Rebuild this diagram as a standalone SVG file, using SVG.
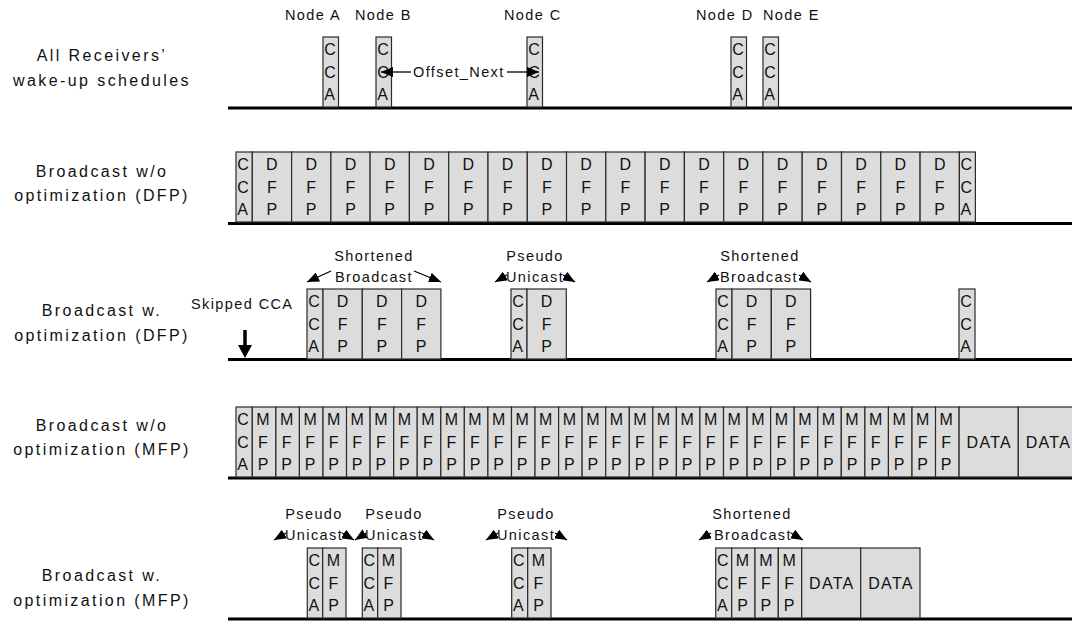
<svg xmlns="http://www.w3.org/2000/svg" width="1072" height="624" viewBox="0 0 1072 624">
<style>
.b{fill:#dcdcdc;stroke:#2a2a2a;stroke-width:1.2}
.t{font-family:"Liberation Sans",Arial,Helvetica,sans-serif;font-size:16px;fill:#111}
.m{text-anchor:middle}
.lbl{font-family:"Liberation Sans",Arial,Helvetica,sans-serif;font-size:16px;letter-spacing:2.4px;text-anchor:middle;fill:#111}
.sm{font-family:"Liberation Sans",Arial,Helvetica,sans-serif;font-size:14.5px;letter-spacing:1.4px;fill:#111}
.base{stroke:#000;stroke-width:3}
.ar{stroke:#000;stroke-width:1.3;fill:none;marker-end:url(#ah)}
.dt{letter-spacing:1.3px}
</style>
<defs>
<marker id="ah" viewBox="0 0 12 10" refX="12" refY="5" markerWidth="12" markerHeight="10" markerUnits="userSpaceOnUse" orient="auto"><path d="M0,0 L12,5 L0,10 z" fill="#000"/></marker>
</defs>
<rect width="1072" height="624" fill="#fff"/>

<g id="row-labels">
<text class="lbl" x="102" y="61">All Receivers’</text>
<text class="lbl" x="102" y="86">wake-up schedules</text>
<text class="lbl" x="102" y="177">Broadcast w/o</text>
<text class="lbl" x="102" y="201">optimization (DFP)</text>
<text class="lbl" x="102" y="316">Broadcast w.</text>
<text class="lbl" x="102" y="341">optimization (DFP)</text>
<text class="lbl" x="102" y="431">Broadcast w/o</text>
<text class="lbl" x="102" y="455">optimization (MFP)</text>
<text class="lbl" x="102" y="581">Broadcast w.</text>
<text class="lbl" x="102" y="606">optimization (MFP)</text>
</g>

<g id="node-labels">
<text class="sm" x="285" y="20">Node A</text>
<text class="sm" x="355" y="20">Node B</text>
<text class="sm" x="504" y="20">Node C</text>
<text class="sm" x="696" y="20">Node D</text>
<text class="sm" x="763" y="20">Node E</text>
</g>

<g id="baselines">
<line class="base" x1="228" y1="108" x2="1072" y2="108"/>
<line class="base" x1="228" y1="223.5" x2="1072" y2="223.5"/>
<line class="base" x1="228" y1="359.5" x2="1072" y2="359.5"/>
<line class="base" x1="228" y1="478" x2="1072" y2="478"/>
<line class="base" x1="228" y1="619" x2="1072" y2="619"/>
</g>

<!-- Row 1 -->
<g id="r1-a"><rect class="b" x="323" y="37" width="15.5" height="70"/><text class="t"><tspan x="324.2" y="55">C</tspan><tspan x="324.2" y="77.5">C</tspan><tspan x="324.2" y="100">A</tspan></text></g>
<g id="r1-b"><rect class="b" x="376" y="37" width="15.5" height="70"/><text class="t"><tspan x="377.2" y="55">C</tspan><tspan x="377.2" y="77.5">C</tspan><tspan x="377.2" y="100">A</tspan></text></g>
<g id="r1-c"><rect class="b" x="527" y="37" width="15.5" height="70"/><text class="t"><tspan x="528.2" y="55">C</tspan><tspan x="528.2" y="77.5">C</tspan><tspan x="528.2" y="100">A</tspan></text></g>
<g id="r1-d"><rect class="b" x="731" y="37" width="15.5" height="70"/><text class="t"><tspan x="732.2" y="55">C</tspan><tspan x="732.2" y="77.5">C</tspan><tspan x="732.2" y="100">A</tspan></text></g>
<g id="r1-e"><rect class="b" x="763" y="37" width="15.5" height="70"/><text class="t"><tspan x="764.2" y="55">C</tspan><tspan x="764.2" y="77.5">C</tspan><tspan x="764.2" y="100">A</tspan></text></g>
<g id="offset-next"><text class="sm" x="413" y="77">Offset_Next</text></g>

<!-- Row 2 -->
<g id="r2-cca1"><rect class="b" x="236" y="152" width="16.3" height="70"/><text class="t"><tspan x="237.2" y="170">C</tspan><tspan x="237.2" y="192.5">C</tspan><tspan x="237.2" y="215">A</tspan></text></g>
<g id="r2-d1"><rect class="b" x="252.3" y="152" width="39.3" height="70"/><text class="t m"><tspan x="271.9" y="170">D</tspan><tspan x="271.9" y="192.5">F</tspan><tspan x="271.9" y="215">P</tspan></text></g>
<g id="r2-d2"><rect class="b" x="291.6" y="152" width="39.3" height="70"/><text class="t m"><tspan x="311.2" y="170">D</tspan><tspan x="311.2" y="192.5">F</tspan><tspan x="311.2" y="215">P</tspan></text></g>
<g id="r2-d3"><rect class="b" x="330.9" y="152" width="39.3" height="70"/><text class="t m"><tspan x="350.5" y="170">D</tspan><tspan x="350.5" y="192.5">F</tspan><tspan x="350.5" y="215">P</tspan></text></g>
<g id="r2-d4"><rect class="b" x="370.1" y="152" width="39.3" height="70"/><text class="t m"><tspan x="389.7" y="170">D</tspan><tspan x="389.7" y="192.5">F</tspan><tspan x="389.7" y="215">P</tspan></text></g>
<g id="r2-d5"><rect class="b" x="409.4" y="152" width="39.3" height="70"/><text class="t m"><tspan x="429" y="170">D</tspan><tspan x="429" y="192.5">F</tspan><tspan x="429" y="215">P</tspan></text></g>
<g id="r2-d6"><rect class="b" x="448.7" y="152" width="39.3" height="70"/><text class="t m"><tspan x="468.3" y="170">D</tspan><tspan x="468.3" y="192.5">F</tspan><tspan x="468.3" y="215">P</tspan></text></g>
<g id="r2-d7"><rect class="b" x="488" y="152" width="39.3" height="70"/><text class="t m"><tspan x="507.6" y="170">D</tspan><tspan x="507.6" y="192.5">F</tspan><tspan x="507.6" y="215">P</tspan></text></g>
<g id="r2-d8"><rect class="b" x="527.3" y="152" width="39.3" height="70"/><text class="t m"><tspan x="546.9" y="170">D</tspan><tspan x="546.9" y="192.5">F</tspan><tspan x="546.9" y="215">P</tspan></text></g>
<g id="r2-d9"><rect class="b" x="566.5" y="152" width="39.3" height="70"/><text class="t m"><tspan x="586.1" y="170">D</tspan><tspan x="586.1" y="192.5">F</tspan><tspan x="586.1" y="215">P</tspan></text></g>
<g id="r2-d10"><rect class="b" x="605.8" y="152" width="39.3" height="70"/><text class="t m"><tspan x="625.4" y="170">D</tspan><tspan x="625.4" y="192.5">F</tspan><tspan x="625.4" y="215">P</tspan></text></g>
<g id="r2-d11"><rect class="b" x="645.1" y="152" width="39.3" height="70"/><text class="t m"><tspan x="664.7" y="170">D</tspan><tspan x="664.7" y="192.5">F</tspan><tspan x="664.7" y="215">P</tspan></text></g>
<g id="r2-d12"><rect class="b" x="684.4" y="152" width="39.3" height="70"/><text class="t m"><tspan x="704" y="170">D</tspan><tspan x="704" y="192.5">F</tspan><tspan x="704" y="215">P</tspan></text></g>
<g id="r2-d13"><rect class="b" x="723.7" y="152" width="39.3" height="70"/><text class="t m"><tspan x="743.3" y="170">D</tspan><tspan x="743.3" y="192.5">F</tspan><tspan x="743.3" y="215">P</tspan></text></g>
<g id="r2-d14"><rect class="b" x="762.9" y="152" width="39.3" height="70"/><text class="t m"><tspan x="782.5" y="170">D</tspan><tspan x="782.5" y="192.5">F</tspan><tspan x="782.5" y="215">P</tspan></text></g>
<g id="r2-d15"><rect class="b" x="802.2" y="152" width="39.3" height="70"/><text class="t m"><tspan x="821.8" y="170">D</tspan><tspan x="821.8" y="192.5">F</tspan><tspan x="821.8" y="215">P</tspan></text></g>
<g id="r2-d16"><rect class="b" x="841.5" y="152" width="39.3" height="70"/><text class="t m"><tspan x="861.1" y="170">D</tspan><tspan x="861.1" y="192.5">F</tspan><tspan x="861.1" y="215">P</tspan></text></g>
<g id="r2-d17"><rect class="b" x="880.8" y="152" width="39.3" height="70"/><text class="t m"><tspan x="900.4" y="170">D</tspan><tspan x="900.4" y="192.5">F</tspan><tspan x="900.4" y="215">P</tspan></text></g>
<g id="r2-d18"><rect class="b" x="920.1" y="152" width="39.3" height="70"/><text class="t m"><tspan x="939.7" y="170">D</tspan><tspan x="939.7" y="192.5">F</tspan><tspan x="939.7" y="215">P</tspan></text></g>
<g id="r2-cca2"><rect class="b" x="959.4" y="152" width="16" height="70"/><text class="t"><tspan x="960.5" y="170">C</tspan><tspan x="960.5" y="192.5">C</tspan><tspan x="960.5" y="215">A</tspan></text></g>

<!-- Row 3 -->
<g id="r3-skip"><text class="sm" x="191" y="309">Skipped CCA</text></g>
<g id="r3-lbl1"><text class="sm m" x="374" y="261">Shortened</text><text class="sm m" x="374" y="282">Broadcast</text></g>
<g id="r3-lbl2"><text class="sm m" x="535" y="261">Pseudo</text><text class="sm m" x="535" y="282">Unicast</text></g>
<g id="r3-lbl3"><text class="sm m" x="760" y="261">Shortened</text><text class="sm m" x="759" y="282">Broadcast</text></g>
<g id="r3-c1"><rect class="b" x="307" y="289" width="16" height="70"/><text class="t"><tspan x="308.2" y="307">C</tspan><tspan x="308.2" y="329.5">C</tspan><tspan x="308.2" y="352">A</tspan></text></g>
<g id="r3-d1"><rect class="b" x="323" y="289" width="39.3" height="70"/><text class="t m"><tspan x="342.6" y="307">D</tspan><tspan x="342.6" y="329.5">F</tspan><tspan x="342.6" y="352">P</tspan></text></g>
<g id="r3-d2"><rect class="b" x="362.3" y="289" width="39.3" height="70"/><text class="t m"><tspan x="381.9" y="307">D</tspan><tspan x="381.9" y="329.5">F</tspan><tspan x="381.9" y="352">P</tspan></text></g>
<g id="r3-d3"><rect class="b" x="401.6" y="289" width="39.3" height="70"/><text class="t m"><tspan x="421.2" y="307">D</tspan><tspan x="421.2" y="329.5">F</tspan><tspan x="421.2" y="352">P</tspan></text></g>
<g id="r3-c2"><rect class="b" x="511" y="289" width="16" height="70"/><text class="t"><tspan x="512.2" y="307">C</tspan><tspan x="512.2" y="329.5">C</tspan><tspan x="512.2" y="352">A</tspan></text></g>
<g id="r3-d4"><rect class="b" x="527" y="289" width="39.3" height="70"/><text class="t m"><tspan x="546.6" y="307">D</tspan><tspan x="546.6" y="329.5">F</tspan><tspan x="546.6" y="352">P</tspan></text></g>
<g id="r3-c3"><rect class="b" x="716" y="289" width="16" height="70"/><text class="t"><tspan x="717.2" y="307">C</tspan><tspan x="717.2" y="329.5">C</tspan><tspan x="717.2" y="352">A</tspan></text></g>
<g id="r3-d5"><rect class="b" x="732" y="289" width="39.3" height="70"/><text class="t m"><tspan x="751.6" y="307">D</tspan><tspan x="751.6" y="329.5">F</tspan><tspan x="751.6" y="352">P</tspan></text></g>
<g id="r3-d6"><rect class="b" x="771.3" y="289" width="39.3" height="70"/><text class="t m"><tspan x="790.9" y="307">D</tspan><tspan x="790.9" y="329.5">F</tspan><tspan x="790.9" y="352">P</tspan></text></g>
<g id="r3-c4"><rect class="b" x="959" y="289" width="16" height="70"/><text class="t"><tspan x="960.2" y="307">C</tspan><tspan x="960.2" y="329.5">C</tspan><tspan x="960.2" y="352">A</tspan></text></g>

<!-- Row 4 -->
<g id="r4-cca"><rect class="b" x="236" y="407" width="16.3" height="70"/><text class="t"><tspan x="237.2" y="425">C</tspan><tspan x="237.2" y="447.5">C</tspan><tspan x="237.2" y="470">A</tspan></text></g>
<g id="r4-m1"><rect class="b" x="252.3" y="407" width="23.6" height="70"/><text class="t m"><tspan x="263" y="425">M</tspan><tspan x="263" y="447.5">F</tspan><tspan x="263" y="470">P</tspan></text></g>
<g id="r4-m2"><rect class="b" x="275.9" y="407" width="23.6" height="70"/><text class="t m"><tspan x="286.6" y="425">M</tspan><tspan x="286.6" y="447.5">F</tspan><tspan x="286.6" y="470">P</tspan></text></g>
<g id="r4-m3"><rect class="b" x="299.4" y="407" width="23.6" height="70"/><text class="t m"><tspan x="310.1" y="425">M</tspan><tspan x="310.1" y="447.5">F</tspan><tspan x="310.1" y="470">P</tspan></text></g>
<g id="r4-m4"><rect class="b" x="323" y="407" width="23.6" height="70"/><text class="t m"><tspan x="333.7" y="425">M</tspan><tspan x="333.7" y="447.5">F</tspan><tspan x="333.7" y="470">P</tspan></text></g>
<g id="r4-m5"><rect class="b" x="346.5" y="407" width="23.6" height="70"/><text class="t m"><tspan x="357.2" y="425">M</tspan><tspan x="357.2" y="447.5">F</tspan><tspan x="357.2" y="470">P</tspan></text></g>
<g id="r4-m6"><rect class="b" x="370.1" y="407" width="23.6" height="70"/><text class="t m"><tspan x="380.8" y="425">M</tspan><tspan x="380.8" y="447.5">F</tspan><tspan x="380.8" y="470">P</tspan></text></g>
<g id="r4-m7"><rect class="b" x="393.7" y="407" width="23.6" height="70"/><text class="t m"><tspan x="404.4" y="425">M</tspan><tspan x="404.4" y="447.5">F</tspan><tspan x="404.4" y="470">P</tspan></text></g>
<g id="r4-m8"><rect class="b" x="417.2" y="407" width="23.6" height="70"/><text class="t m"><tspan x="427.9" y="425">M</tspan><tspan x="427.9" y="447.5">F</tspan><tspan x="427.9" y="470">P</tspan></text></g>
<g id="r4-m9"><rect class="b" x="440.8" y="407" width="23.6" height="70"/><text class="t m"><tspan x="451.5" y="425">M</tspan><tspan x="451.5" y="447.5">F</tspan><tspan x="451.5" y="470">P</tspan></text></g>
<g id="r4-m10"><rect class="b" x="464.3" y="407" width="23.6" height="70"/><text class="t m"><tspan x="475" y="425">M</tspan><tspan x="475" y="447.5">F</tspan><tspan x="475" y="470">P</tspan></text></g>
<g id="r4-m11"><rect class="b" x="487.9" y="407" width="23.6" height="70"/><text class="t m"><tspan x="498.6" y="425">M</tspan><tspan x="498.6" y="447.5">F</tspan><tspan x="498.6" y="470">P</tspan></text></g>
<g id="r4-m12"><rect class="b" x="511.5" y="407" width="23.6" height="70"/><text class="t m"><tspan x="522.2" y="425">M</tspan><tspan x="522.2" y="447.5">F</tspan><tspan x="522.2" y="470">P</tspan></text></g>
<g id="r4-m13"><rect class="b" x="535" y="407" width="23.6" height="70"/><text class="t m"><tspan x="545.7" y="425">M</tspan><tspan x="545.7" y="447.5">F</tspan><tspan x="545.7" y="470">P</tspan></text></g>
<g id="r4-m14"><rect class="b" x="558.6" y="407" width="23.6" height="70"/><text class="t m"><tspan x="569.3" y="425">M</tspan><tspan x="569.3" y="447.5">F</tspan><tspan x="569.3" y="470">P</tspan></text></g>
<g id="r4-m15"><rect class="b" x="582.1" y="407" width="23.6" height="70"/><text class="t m"><tspan x="592.8" y="425">M</tspan><tspan x="592.8" y="447.5">F</tspan><tspan x="592.8" y="470">P</tspan></text></g>
<g id="r4-m16"><rect class="b" x="605.7" y="407" width="23.6" height="70"/><text class="t m"><tspan x="616.4" y="425">M</tspan><tspan x="616.4" y="447.5">F</tspan><tspan x="616.4" y="470">P</tspan></text></g>
<g id="r4-m17"><rect class="b" x="629.3" y="407" width="23.6" height="70"/><text class="t m"><tspan x="640" y="425">M</tspan><tspan x="640" y="447.5">F</tspan><tspan x="640" y="470">P</tspan></text></g>
<g id="r4-m18"><rect class="b" x="652.8" y="407" width="23.6" height="70"/><text class="t m"><tspan x="663.5" y="425">M</tspan><tspan x="663.5" y="447.5">F</tspan><tspan x="663.5" y="470">P</tspan></text></g>
<g id="r4-m19"><rect class="b" x="676.4" y="407" width="23.6" height="70"/><text class="t m"><tspan x="687.1" y="425">M</tspan><tspan x="687.1" y="447.5">F</tspan><tspan x="687.1" y="470">P</tspan></text></g>
<g id="r4-m20"><rect class="b" x="699.9" y="407" width="23.6" height="70"/><text class="t m"><tspan x="710.6" y="425">M</tspan><tspan x="710.6" y="447.5">F</tspan><tspan x="710.6" y="470">P</tspan></text></g>
<g id="r4-m21"><rect class="b" x="723.5" y="407" width="23.6" height="70"/><text class="t m"><tspan x="734.2" y="425">M</tspan><tspan x="734.2" y="447.5">F</tspan><tspan x="734.2" y="470">P</tspan></text></g>
<g id="r4-m22"><rect class="b" x="747.1" y="407" width="23.6" height="70"/><text class="t m"><tspan x="757.8" y="425">M</tspan><tspan x="757.8" y="447.5">F</tspan><tspan x="757.8" y="470">P</tspan></text></g>
<g id="r4-m23"><rect class="b" x="770.6" y="407" width="23.6" height="70"/><text class="t m"><tspan x="781.3" y="425">M</tspan><tspan x="781.3" y="447.5">F</tspan><tspan x="781.3" y="470">P</tspan></text></g>
<g id="r4-m24"><rect class="b" x="794.2" y="407" width="23.6" height="70"/><text class="t m"><tspan x="804.9" y="425">M</tspan><tspan x="804.9" y="447.5">F</tspan><tspan x="804.9" y="470">P</tspan></text></g>
<g id="r4-m25"><rect class="b" x="817.7" y="407" width="23.6" height="70"/><text class="t m"><tspan x="828.4" y="425">M</tspan><tspan x="828.4" y="447.5">F</tspan><tspan x="828.4" y="470">P</tspan></text></g>
<g id="r4-m26"><rect class="b" x="841.3" y="407" width="23.6" height="70"/><text class="t m"><tspan x="852" y="425">M</tspan><tspan x="852" y="447.5">F</tspan><tspan x="852" y="470">P</tspan></text></g>
<g id="r4-m27"><rect class="b" x="864.9" y="407" width="23.6" height="70"/><text class="t m"><tspan x="875.6" y="425">M</tspan><tspan x="875.6" y="447.5">F</tspan><tspan x="875.6" y="470">P</tspan></text></g>
<g id="r4-m28"><rect class="b" x="888.4" y="407" width="23.6" height="70"/><text class="t m"><tspan x="899.1" y="425">M</tspan><tspan x="899.1" y="447.5">F</tspan><tspan x="899.1" y="470">P</tspan></text></g>
<g id="r4-m29"><rect class="b" x="912" y="407" width="23.6" height="70"/><text class="t m"><tspan x="922.7" y="425">M</tspan><tspan x="922.7" y="447.5">F</tspan><tspan x="922.7" y="470">P</tspan></text></g>
<g id="r4-m30"><rect class="b" x="935.5" y="407" width="23.6" height="70"/><text class="t m"><tspan x="946.2" y="425">M</tspan><tspan x="946.2" y="447.5">F</tspan><tspan x="946.2" y="470">P</tspan></text></g>
<g id="r4-data1"><rect class="b" x="959.1" y="407" width="59.2" height="70"/><text class="t m dt" x="989.3" y="447.5">DATA</text></g>
<g id="r4-data2"><rect class="b" x="1018.3" y="407" width="59.2" height="70"/><text class="t m dt" x="1048.4" y="447.5">DATA</text></g>

<!-- Row 5 -->
<g id="r5-lbl1"><text class="sm m" x="314" y="519">Pseudo</text><text class="sm m" x="314" y="540">Unicast</text></g>
<g id="r5-lbl2"><text class="sm m" x="394" y="519">Pseudo</text><text class="sm m" x="394" y="540">Unicast</text></g>
<g id="r5-lbl3"><text class="sm m" x="526" y="519">Pseudo</text><text class="sm m" x="526" y="540">Unicast</text></g>
<g id="r5-lbl4"><text class="sm m" x="752" y="519">Shortened</text><text class="sm m" x="753" y="540">Broadcast</text></g>
<g id="r5-c1"><rect class="b" x="307.3" y="548" width="15.4" height="70"/><text class="t"><tspan x="308.4" y="566">C</tspan><tspan x="308.4" y="588.5">C</tspan><tspan x="308.4" y="611">A</tspan></text></g>
<g id="r5-m1"><rect class="b" x="322.7" y="548" width="23.3" height="70"/><text class="t m"><tspan x="333.5" y="566">M</tspan><tspan x="333.5" y="588.5">F</tspan><tspan x="333.5" y="611">P</tspan></text></g>
<g id="r5-c2"><rect class="b" x="362.3" y="548" width="15.4" height="70"/><text class="t"><tspan x="363.4" y="566">C</tspan><tspan x="363.4" y="588.5">C</tspan><tspan x="363.4" y="611">A</tspan></text></g>
<g id="r5-m2"><rect class="b" x="377.7" y="548" width="23.3" height="70"/><text class="t m"><tspan x="388.5" y="566">M</tspan><tspan x="388.5" y="588.5">F</tspan><tspan x="388.5" y="611">P</tspan></text></g>
<g id="r5-c3"><rect class="b" x="511.7" y="548" width="16" height="70"/><text class="t"><tspan x="512.9" y="566">C</tspan><tspan x="512.9" y="588.5">C</tspan><tspan x="512.9" y="611">A</tspan></text></g>
<g id="r5-m3"><rect class="b" x="527.7" y="548" width="23.3" height="70"/><text class="t m"><tspan x="538.5" y="566">M</tspan><tspan x="538.5" y="588.5">F</tspan><tspan x="538.5" y="611">P</tspan></text></g>
<g id="r5-c4"><rect class="b" x="715.7" y="548" width="16" height="70"/><text class="t"><tspan x="716.9" y="566">C</tspan><tspan x="716.9" y="588.5">C</tspan><tspan x="716.9" y="611">A</tspan></text></g>
<g id="r5-m4"><rect class="b" x="731.7" y="548" width="23.3" height="70"/><text class="t m"><tspan x="742.5" y="566">M</tspan><tspan x="742.5" y="588.5">F</tspan><tspan x="742.5" y="611">P</tspan></text></g>
<g id="r5-m5"><rect class="b" x="755" y="548" width="23.3" height="70"/><text class="t m"><tspan x="765.8" y="566">M</tspan><tspan x="765.8" y="588.5">F</tspan><tspan x="765.8" y="611">P</tspan></text></g>
<g id="r5-m6"><rect class="b" x="778.3" y="548" width="23.4" height="70"/><text class="t m"><tspan x="789.1" y="566">M</tspan><tspan x="789.1" y="588.5">F</tspan><tspan x="789.1" y="611">P</tspan></text></g>
<g id="r5-data1"><rect class="b" x="801.7" y="548" width="59" height="70"/><text class="t m dt" x="831.8" y="588.5">DATA</text></g>
<g id="r5-data2"><rect class="b" x="860.7" y="548" width="59.3" height="70"/><text class="t m dt" x="891" y="588.5">DATA</text></g>

<g id="connectors">
<line class="ar" x1="411" y1="72" x2="381" y2="72"/>
<line class="ar" x1="507" y1="72" x2="539" y2="72"/>
<line class="ar" x1="331" y1="271" x2="307" y2="282"/>
<line class="ar" x1="414" y1="271" x2="441" y2="282"/>
<line class="ar" x1="507" y1="275" x2="495" y2="282"/>
<line class="ar" x1="563" y1="275" x2="575" y2="282"/>
<line class="ar" x1="719" y1="275" x2="707" y2="282"/>
<line class="ar" x1="799" y1="275" x2="811" y2="282"/>
<line class="ar" x1="286" y1="533" x2="274" y2="540"/>
<line class="ar" x1="342" y1="533" x2="354" y2="540"/>
<line class="ar" x1="366" y1="533" x2="355" y2="540"/>
<line class="ar" x1="422" y1="533" x2="434" y2="540"/>
<line class="ar" x1="498" y1="533" x2="486" y2="540"/>
<line class="ar" x1="555" y1="533" x2="567" y2="540"/>
<line class="ar" x1="711" y1="533" x2="699" y2="540"/>
<line class="ar" x1="791" y1="533" x2="803" y2="540"/>
<line x1="245" y1="330" x2="245" y2="346" stroke="#000" stroke-width="3.5"/>
<path d="M238,345 L252,345 L245,358 z" fill="#000"/>
</g>
</svg>
